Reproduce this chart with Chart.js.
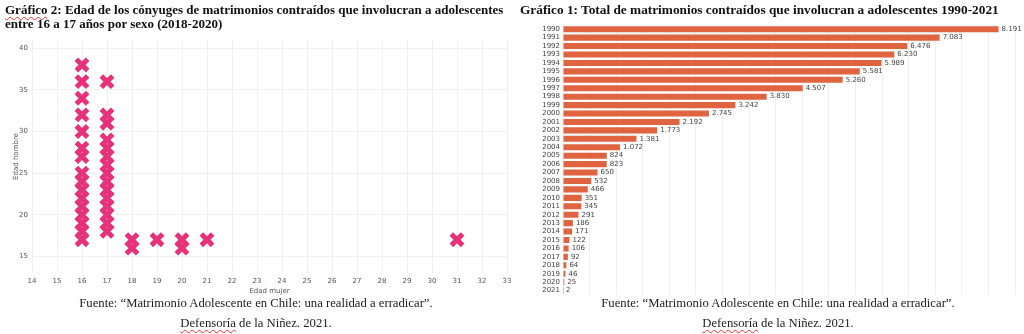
<!DOCTYPE html>
<html>
<head>
<meta charset="utf-8">
<script src="https://cdn.jsdelivr.net/npm/chart.js@4.4.1/dist/chart.umd.min.js"></script>
<style>
  body { margin: 0; width: 1024px; height: 334px; background: #fff; position: relative; overflow: hidden; }
  .box { position: absolute; }
  .titulo { position: absolute; font-family: "Liberation Serif", "Times New Roman", serif; font-weight: bold; font-size: 13px; line-height: 14px; color: #111; white-space: nowrap; }
  .fuente { position: absolute; font-family: "Liberation Serif", "Times New Roman", serif; font-size: 12.7px; line-height: 20px; color: #222; text-align: center; white-space: nowrap; }
  .sq { text-decoration: underline wavy #e33; text-decoration-thickness: 1px; text-underline-offset: 2px; }
</style>
</head>
<body>

<div class="box" style="left:0;top:0;width:520px;height:300px;"><canvas id="graf2"></canvas></div>
<div class="box" style="left:512px;top:0;width:512px;height:302px;"><canvas id="graf1"></canvas></div>

<div class="titulo" style="left:5px;top:3px;"><span class="sq">Gráfico</span> 2: Edad de los cónyuges de matrimonios contraídos que involucran a adolescentes<br>entre 16 a 17 años por sexo (2018-2020)</div>
<div class="titulo" style="left:520px;top:3px;font-size:13.3px;">Gráfico 1: Total de matrimonios contraídos que involucran a adolescentes 1990-2021</div>

<div class="fuente" style="left:0;width:512px;top:293px;">Fuente: “Matrimonio Adolescente en Chile: una realidad a erradicar”.<br><span class="sq">Defensoría</span> de la Niñez. 2021.</div>
<div class="fuente" style="left:522px;width:512px;top:293px;">Fuente: “Matrimonio Adolescente en Chile: una realidad a erradicar”.<br><span class="sq">Defensoría</span> de la Niñez. 2021.</div>

<script>
// grafico 2: edad mujer (x) vs edad hombre (y)
const edadMujer = [16,16,16,16,16,16,16,16,16,16,16,16,16,16,16,16,
                   17,17,17,17,17,17,17,17,17,17,17,17,17,17,17,
                   18,18,19,20,20,21,31];
const edadHombre = [17,18,19,20,21,22,23,24,25,27,28,30,32,34,36,38,
                    18,19,20,21,22,23,24,25,26,27,28,29,31,32,36,
                    16,17,17,16,17,17,17];
const ticksEdadY = [15, 20, 25, 30, 35, 40];

// grafico 1: total por año
const anios = [1990,1991,1992,1993,1994,1995,1996,1997,1998,1999,2000,2001,2002,2003,2004,2005,
               2006,2007,2008,2009,2010,2011,2012,2013,2014,2015,2016,2017,2018,2019,2020,2021];
const totales = [8191,7083,6476,6230,5989,5581,5260,4507,3830,3242,2745,2192,1773,1381,1072,824,
                 823,650,532,466,351,345,291,186,171,122,106,92,64,46,25,2];

const fuenteEje = { family: "'DejaVu Sans', sans-serif", size: 7 };
const grisTexto = '#555';
const grisGrid = '#f0f0f0';

let puntos = edadMujer.map((x, i) => ({ x: x, y: edadHombre[i] }));

new Chart(document.getElementById('graf2'), {
  type: 'scatter',
  data: {
    datasets: [{
      data: puntos,
      pointStyle: 'crossRot',
      pointRadius: 8,
      pointHoverRadius: 8,
      borderWidth: 5,
      borderColor: '#e7317a',
      backgroundColor: '#e7317a'
    }]
  },
  options: {
    responsive: true,
    maintainAspectRatio: false,
    animation: false,
    layout: { padding: { left: 0, top: 40, right: 0, bottom: 0 } },
    plugins: { legend: { display: false }, tooltip: { enabled: false } },
    scales: {
      x: {
        type: 'linear',
        min: 14, max: 33,
        border: { display: false },
        grid: { color: grisGrid, drawTicks: false },
        ticks: { stepSize: 1, autoSkip: false, maxTicksLimit: 100, padding: 4, font: fuenteEje, color: grisTexto, maxRotation: 0 },
        title: { display: true, text: 'Edad mujer', font: fuenteEje, color: grisTexto, padding: { top: 0, bottom: 5 } },
        afterFit: function (s) { s.height = 27; }
      },
      y: {
        type: 'linear',
        min: 13, max: 41,
        border: { display: false },
        grid: { color: grisGrid, drawTicks: false },
        ticks: { padding: 4, font: fuenteEje, color: grisTexto },
        afterBuildTicks: function (s) { s.ticks = ticksEdadY.map(v => ({ value: v })); },
        title: { display: true, text: 'Edad hombre', font: fuenteEje, color: grisTexto, padding: { top: 12, bottom: 0 } },
        afterFit: function (s) { s.width = 32; }
      }
    }
  }
});

// etiquetas de valor al final de cada barra
const etiquetasBarras = {
  id: 'etiquetasBarras',
  afterDatasetsDraw(chart) {
    const ctx = chart.ctx;
    const meta = chart.getDatasetMeta(0);
    ctx.save();
    ctx.font = "7px 'DejaVu Sans', sans-serif";
    ctx.fillStyle = '#444';
    ctx.textAlign = 'left';
    ctx.textBaseline = 'middle';
    meta.data.forEach((bar, i) => {
      let txt = String(totales[i]).replace(/\B(?=(\d{3})+(?!\d))/g, '.');
      ctx.fillText(txt, bar.x + 3, bar.y);
    });
    ctx.restore();
  }
};

new Chart(document.getElementById('graf1'), {
  type: 'bar',
  data: {
    labels: anios,
    datasets: [{
      data: totales,
      backgroundColor: '#e06440',
      barPercentage: 0.72,
      categoryPercentage: 1.0
    }]
  },
  plugins: [etiquetasBarras],
  options: {
    indexAxis: 'y',
    responsive: true,
    maintainAspectRatio: false,
    animation: false,
    layout: { padding: { left: 0, top: 25, right: 9, bottom: 1 } },
    plugins: { legend: { display: false }, tooltip: { enabled: false } },
    scales: {
      x: {
        min: 0, max: 8500,
        border: { display: false },
        grid: { color: grisGrid, drawTicks: false },
        ticks: { display: false, stepSize: 500, maxTicksLimit: 100 },
        afterFit: function (s) { s.height = 0; }
      },
      y: {
        border: { display: false },
        grid: { display: false, drawTicks: false },
        ticks: { padding: 3, font: fuenteEje, color: '#444', autoSkip: false },
        afterFit: function (s) { s.width = 51; }
      }
    }
  }
});
</script>
</body>
</html>
